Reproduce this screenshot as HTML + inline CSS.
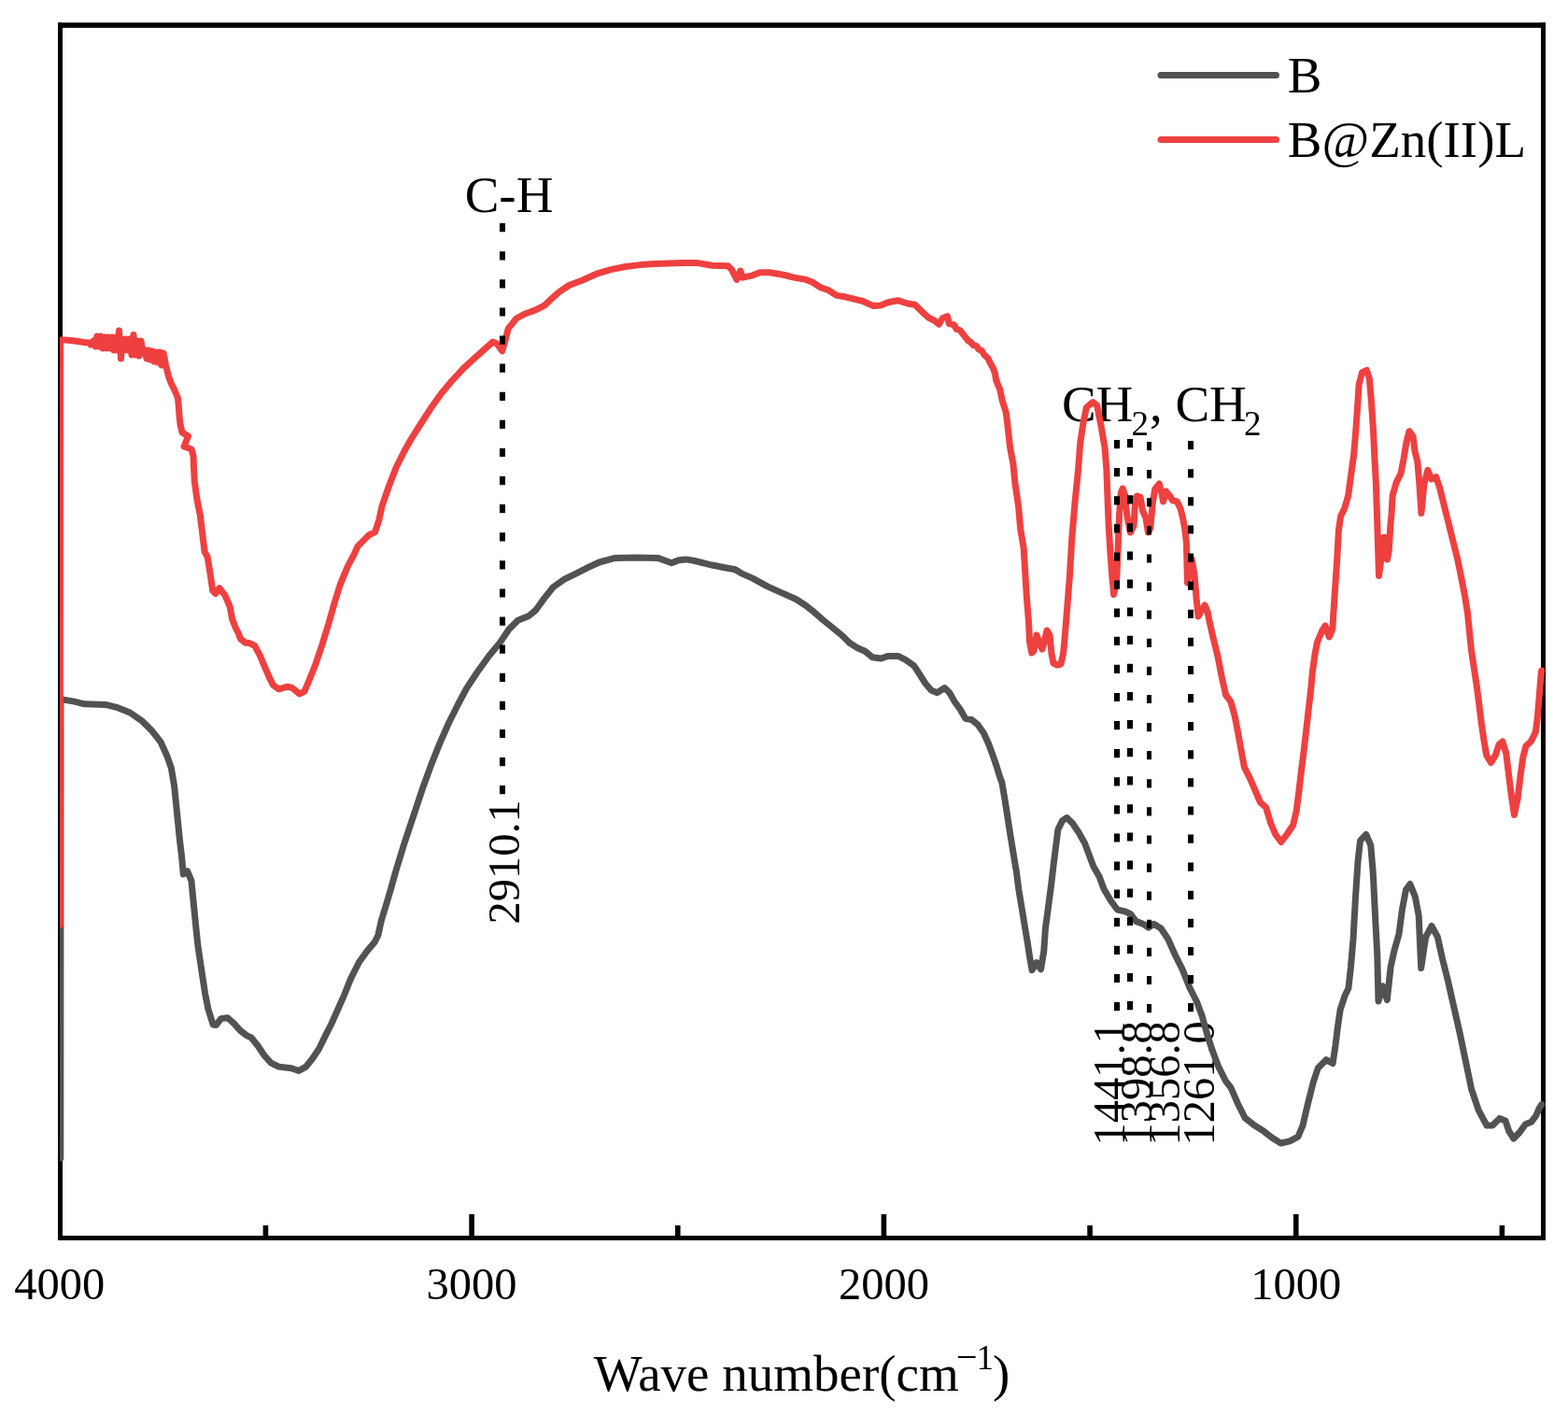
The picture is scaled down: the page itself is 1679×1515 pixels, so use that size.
<!DOCTYPE html><html><head><meta charset="utf-8"><title>FTIR spectra</title>
<style>html,body{margin:0;padding:0;background:#fff;}svg{display:block;}text{font-family:'Liberation Serif','Times New Roman',serif;fill:#000;}</style></head><body>
<svg width="1679" height="1515" viewBox="0 0 1679 1515">
<rect x="0" y="0" width="1679" height="1515" fill="#fff"/>
<defs><clipPath id="pa"><rect x="64" y="0" width="1600" height="1515"/></clipPath></defs>
<g fill="#000">
<rect x="62" y="24.2" width="1593" height="5.6"/>
<rect x="62" y="24" width="5" height="1304"/>
<rect x="1650" y="24" width="5" height="1304"/>
<rect x="62" y="1323" width="1593" height="5"/>
<rect x="502.31" y="1300" width="5.6" height="24"/>
<rect x="943.62" y="1300" width="5.6" height="24"/>
<rect x="1384.93" y="1300" width="5.6" height="24"/>
<rect x="281.65" y="1312" width="5.6" height="12"/>
<rect x="722.96" y="1312" width="5.6" height="12"/>
<rect x="1164.27" y="1312" width="5.6" height="12"/>
<rect x="1605.59" y="1312" width="5.6" height="12"/>
</g>
<text x="63.8" y="1390.5" font-size="48.5" text-anchor="middle">4000</text>
<text x="505.1" y="1390.5" font-size="48.5" text-anchor="middle">3000</text>
<text x="946.4" y="1390.5" font-size="48.5" text-anchor="middle">2000</text>
<text x="1387.7" y="1390.5" font-size="48.5" text-anchor="middle">1000</text>
<text x="635.7" y="1489.3" font-size="55">Wave number(cm<tspan x="1024" y="1466" font-size="40">&#8722;</tspan><tspan x="1045.4" y="1466" font-size="37">1</tspan><tspan x="1063" y="1489.3">)</tspan></text>
<text x="497.7" y="227.1" font-size="55">C-H</text>
<text x="1136.9" y="450.7" font-size="55">CH<tspan x="1211.6" dy="15.1" font-size="37">2</tspan><tspan x="1230.9" dy="-15.1">, CH</tspan><tspan x="1332.1" dy="15.1" font-size="37">2</tspan></text>
<text transform="translate(555.8 989.6) rotate(-90)" font-size="48.5">2910.1</text>
<text transform="translate(1203.6 1226.6) rotate(-90)" font-size="48.5">1441.1</text>
<text transform="translate(1233.3 1226.6) rotate(-90)" font-size="48.5">1398.8</text>
<text transform="translate(1262.5 1226.6) rotate(-90)" font-size="48.5">1356.8</text>
<text transform="translate(1299.6 1226.6) rotate(-90)" font-size="48.5">1261.0</text>
<line x1="1243" y1="80.6" x2="1366.5" y2="80.6" stroke="#525252" stroke-width="7" stroke-linecap="round"/>
<line x1="1243" y1="149.4" x2="1366.5" y2="149.4" stroke="#ef4040" stroke-width="7" stroke-linecap="round"/>
<text x="1378.8" y="98.6" font-size="55">B</text>
<text x="1378.8" y="167.9" font-size="55">B@Zn(II)L</text>
<g clip-path="url(#pa)" fill="none" stroke-width="7" stroke-linejoin="round" stroke-linecap="round">
<path d="M64.8 1240.0 L65.0 749.0 67.9 749.1 79.8 751.1 90.4 753.8 112.8 754.4 126.0 757.7 139.2 763.0 152.4 772.2 163.0 782.8 172.2 794.7 178.8 809.2 183.4 822.4 186.7 842.2 188.7 862.0 190.7 881.8 192.7 901.6 194.6 917.2 196.3 936.0 200.6 932.6 204.9 942.9 206.6 960.1 208.3 977.3 210.0 994.4 211.8 1011.6 214.3 1028.8 216.9 1045.9 219.5 1063.1 222.9 1080.3 228.1 1097.0 231.5 1097.4 236.7 1090.6 243.5 1089.7 250.4 1095.7 257.3 1103.4 264.1 1108.6 269.3 1111.2 276.1 1119.7 283.0 1130.0 289.9 1137.8 298.5 1142.1 312.2 1143.8 319.9 1146.5 327.6 1142.1 334.5 1133.5 341.4 1123.2 348.2 1109.4 355.1 1095.7 362.0 1080.3 368.8 1064.8 375.7 1047.6 384.3 1030.5 392.9 1018.5 401.5 1008.2 404.9 1001.3 408.3 985.8 413.5 968.7 418.6 951.5 423.8 932.7 433.3 901.8 442.8 873.3 452.3 844.8 461.8 818.6 471.3 794.9 480.8 773.5 490.3 754.5 499.8 736.6 511.7 718.8 523.6 702.2 535.5 687.9 545.0 673.7 554.5 664.2 566.3 659.4 573.5 653.5 583.0 640.4 592.5 628.5 604.4 620.2 616.3 614.3 628.1 608.3 641.7 602.0 658.7 597.4 681.9 597.1 704.4 597.4 712.9 600.5 719.1 602.8 726.8 599.7 734.6 598.9 743.9 600.5 759.4 604.4 774.8 607.5 787.2 609.8 793.4 613.6 805.8 619.1 821.3 627.6 836.8 634.6 852.3 641.5 863.1 648.5 870.0 653.9 880.5 663.1 891.0 671.6 902.8 681.4 909.3 688.0 917.2 693.2 926.3 697.2 934.2 703.7 943.4 705.0 951.2 702.4 961.7 702.4 969.6 706.3 978.8 712.9 984.0 720.8 990.5 731.2 997.1 739.1 1003.6 741.7 1011.5 736.5 1016.8 741.7 1022.0 750.9 1028.5 760.1 1033.8 769.2 1040.3 770.5 1046.9 775.8 1053.4 785.0 1058.7 796.8 1062.6 807.2 1067.0 820.0 1070.0 830.0 1072.9 838.0 1075.8 854.8 1079.0 875.4 1082.2 896.0 1085.3 915.0 1088.5 934.0 1090.9 953.0 1094.1 972.0 1097.2 991.0 1100.4 1010.0 1102.8 1025.9 1105.1 1038.6 1109.9 1030.6 1114.6 1037.8 1117.8 1018.0 1119.4 994.2 1122.6 970.5 1125.7 946.7 1128.1 926.1 1130.5 907.1 1132.9 888.1 1137.6 878.6 1142.4 875.5 1148.7 881.8 1155.0 891.3 1161.4 902.4 1166.1 915.0 1170.9 927.7 1177.2 938.8 1182.0 951.7 1189.5 964.5 1196.5 974.0 1204.9 975.8 1210.6 978.7 1216.4 986.4 1224.0 989.2 1229.8 993.1 1235.5 989.2 1243.2 994.0 1250.8 1005.5 1258.5 1022.8 1266.2 1038.1 1273.8 1057.2 1281.5 1072.5 1287.2 1087.9 1293.0 1108.9 1298.7 1126.1 1304.5 1141.5 1312.1 1156.8 1317.9 1164.4 1325.5 1181.7 1333.2 1197.0 1342.7 1204.6 1352.3 1210.4 1361.9 1218.0 1371.5 1224.0 1381.0 1221.9 1390.0 1217.0 1395.0 1205.0 1400.0 1183.6 1406.3 1158.5 1411.3 1143.5 1420.1 1134.7 1427.1 1138.5 1430.1 1118.4 1432.6 1098.3 1435.2 1080.8 1440.2 1065.7 1443.9 1058.2 1446.4 1035.6 1449.0 1005.5 1451.5 960.4 1454.0 922.7 1456.5 900.1 1462.8 893.5 1467.8 905.2 1470.3 935.3 1472.8 985.4 1474.8 1023.1 1476.0 1072.0 1480.3 1055.7 1485.3 1070.7 1489.1 1035.6 1492.9 1018.0 1497.9 1000.5 1501.6 972.9 1505.4 952.8 1509.9 946.5 1515.4 960.4 1519.2 980.4 1521.7 1036.5 1526.7 1003.0 1533.0 991.5 1539.3 1003.0 1544.3 1025.6 1550.6 1050.7 1556.8 1078.3 1563.1 1105.9 1569.4 1136.0 1575.6 1166.1 1583.2 1188.7 1592.0 1205.0 1598.2 1205.0 1605.8 1197.4 1612.0 1199.9 1615.8 1211.2 1620.8 1219.0 1627.1 1212.5 1633.4 1203.7 1639.6 1201.2 1644.6 1194.9 1648.4 1186.1 1650.9 1182.4" stroke="#525252"/>
<path d="M64.2 990.5 L64.5 364.0 70.0 364.0 80.0 365.0 90.0 366.5 95.0 367.0 97.0 369.0 100.0 365.0 102.0 371.0 104.0 360.0 106.0 371.0 108.0 360.0 110.0 373.0 112.0 361.0 114.0 373.0 116.0 361.0 118.0 373.0 120.0 361.0 122.0 375.0 124.0 361.0 126.0 375.0 127.5 354.0 129.5 384.0 131.0 363.0 133.0 375.0 135.0 363.0 137.0 375.0 139.0 363.0 141.0 380.0 143.0 358.5 145.0 380.0 147.0 365.0 149.0 381.0 151.0 365.0 153.0 378.0 155.0 374.6 157.0 384.0 159.0 375.0 161.0 385.0 163.0 376.0 165.0 387.0 167.0 377.0 169.0 388.0 171.0 377.0 173.0 391.0 175.0 378.0 177.5 391.0 180.5 403.0 183.5 411.0 187.0 418.0 190.4 426.0 191.3 435.0 192.0 445.0 193.0 454.0 195.0 463.0 201.5 467.0 197.0 478.0 205.0 481.0 207.0 488.0 207.5 500.0 208.3 515.5 210.9 534.3 214.3 551.5 216.4 568.7 219.1 591.0 222.1 596.1 225.5 616.7 227.7 632.2 230.6 635.6 234.9 629.6 240.9 637.3 246.1 649.4 248.7 663.1 252.1 671.7 255.5 678.5 257.3 683.7 262.4 688.0 267.6 688.8 272.7 691.4 277.9 700.9 283.0 712.9 288.2 724.9 292.4 733.5 298.5 737.8 307.9 735.2 312.2 736.1 320.8 742.9 325.9 740.3 331.1 728.3 337.9 711.2 344.8 690.6 351.7 668.2 358.5 644.2 364.5 625.3 372.3 606.4 379.1 593.6 383.1 584.9 395.0 572.9 401.6 569.6 405.9 556.6 409.2 541.3 416.8 519.5 424.4 500.0 433.2 482.5 441.9 467.3 451.7 452.0 461.5 436.8 472.4 421.5 483.2 408.5 496.3 394.3 509.4 382.4 520.3 372.6 527.9 366.0 532.2 368.2 537.7 375.8 540.9 364.9 544.2 351.9 552.9 341.0 561.6 336.2 572.5 332.3 583.4 326.8 590.0 320.3 598.7 312.7 609.3 305.5 623.2 300.2 638.7 293.2 654.2 288.6 669.7 285.5 685.2 283.6 700.6 282.4 716.1 282.1 731.6 281.6 747.1 281.6 762.6 284.2 779.6 284.7 783.5 288.6 788.9 299.4 792.8 290.1 795.1 297.1 806.0 294.8 813.7 291.7 824.5 291.7 840.0 294.5 850.0 297.1 863.1 299.4 869.7 302.0 878.8 307.9 886.7 310.5 895.9 316.4 905.0 317.8 915.5 320.4 923.4 322.3 935.2 327.6 943.0 326.9 950.9 323.7 961.4 321.7 971.9 325.0 979.7 326.3 987.6 334.1 994.1 340.0 1000.7 343.3 1005.3 347.2 1009.2 340.7 1014.4 338.7 1016.4 346.6 1021.6 347.9 1024.3 352.5 1028.2 353.8 1033.6 360.8 1036.5 364.5 1039.5 366.5 1042.0 369.5 1045.4 370.3 1048.0 374.0 1051.2 375.5 1054.0 380.0 1057.8 383.5 1060.5 389.0 1063.6 394.5 1065.5 400.0 1066.5 406.5 1068.5 412.0 1070.8 417.0 1072.0 423.0 1073.0 428.0 1075.9 437.5 1077.3 442.0 1079.3 458.5 1081.5 478.7 1084.9 496.7 1087.1 519.1 1090.5 541.6 1092.7 566.3 1096.1 586.5 1097.9 615.6 1099.4 640.0 1101.5 666.0 1102.5 687.0 1104.8 699.0 1107.0 697.0 1110.0 680.0 1113.0 688.0 1116.0 695.0 1118.0 688.0 1121.0 675.0 1124.0 680.0 1126.0 700.0 1128.0 710.0 1132.0 712.0 1136.0 711.0 1138.5 700.0 1139.5 690.0 1141.5 666.0 1143.6 640.0 1145.5 615.6 1147.7 577.5 1151.1 537.1 1154.5 503.4 1156.7 474.3 1160.1 451.8 1163.4 436.1 1170.2 430.5 1174.6 433.9 1179.1 456.3 1183.1 480.0 1184.9 503.8 1186.0 533.5 1187.2 563.2 1189.0 592.9 1190.8 616.7 1192.6 636.5 1195.6 622.6 1196.7 598.8 1197.6 575.1 1198.5 551.3 1200.3 527.5 1202.1 523.0 1204.5 529.9 1206.8 551.3 1210.4 570.0 1214.0 563.2 1215.8 533.5 1217.5 531.1 1221.1 532.3 1223.5 546.6 1227.0 554.9 1229.4 570.0 1231.8 565.6 1234.2 539.4 1236.6 524.0 1241.3 518.0 1244.3 529.9 1245.5 537.0 1248.4 526.0 1252.0 530.0 1255.6 535.9 1260.3 537.0 1263.9 544.2 1266.3 553.7 1268.6 565.6 1270.4 581.0 1271.0 606.0 1271.5 624.0 1276.0 598.0 1279.0 615.0 1281.0 640.0 1282.5 655.0 1283.0 660.0 1287.0 653.0 1290.0 648.0 1293.0 655.0 1295.0 665.0 1298.9 682.3 1304.0 702.9 1308.3 725.2 1312.6 744.1 1317.8 751.0 1322.1 766.4 1325.5 783.6 1328.9 802.5 1332.4 821.4 1338.4 833.4 1344.4 847.1 1349.5 859.1 1355.5 864.3 1360.7 881.5 1365.8 893.5 1371.8 901.5 1377.9 893.5 1384.7 883.2 1388.2 867.7 1390.7 848.8 1393.3 826.5 1395.9 805.9 1398.5 783.6 1401.0 761.3 1403.6 739.0 1405.3 720.1 1407.9 701.2 1410.5 687.5 1415.6 675.5 1419.1 670.0 1423.3 682.0 1426.8 673.7 1427.8 657.2 1429.8 627.5 1431.8 597.8 1433.4 568.1 1435.7 552.3 1439.7 544.4 1443.7 530.5 1446.6 508.7 1449.6 486.9 1451.6 463.2 1453.6 435.4 1455.1 411.7 1458.5 398.8 1463.5 396.5 1466.4 405.7 1468.4 429.5 1470.4 459.2 1471.8 488.9 1473.4 518.6 1474.4 548.3 1475.3 578.0 1476.5 616.5 1479.0 598.0 1481.5 575.5 1484.0 575.5 1485.5 599.0 1487.2 590.0 1488.7 565.0 1490.0 550.0 1491.2 530.5 1495.1 516.6 1500.1 506.7 1503.1 490.9 1506.0 473.1 1509.0 461.7 1513.0 467.1 1515.0 483.0 1517.9 494.9 1519.9 518.6 1521.9 549.5 1524.9 518.6 1528.8 503.3 1532.8 513.0 1537.7 510.7 1541.7 522.6 1546.6 542.4 1551.6 562.2 1555.5 578.0 1560.5 597.8 1564.7 618.3 1568.5 637.8 1571.6 657.4 1573.5 676.6 1575.4 695.7 1578.3 714.9 1581.2 734.0 1583.7 753.2 1586.0 772.3 1588.8 791.5 1591.7 808.7 1596.5 816.5 1601.3 808.7 1605.1 797.2 1608.9 794.0 1612.8 806.8 1615.6 829.8 1618.5 852.7 1621.4 872.5 1625.2 854.7 1628.1 829.8 1630.9 810.6 1633.8 799.1 1639.6 793.4 1644.3 783.8 1646.3 768.5 1648.2 745.5 1650.1 722.5 1650.7 718.0" stroke="#ef4040"/>
</g>
<g stroke="#000" fill="none" stroke-dasharray="9.2 20.9">
<line x1="538" y1="239.1" x2="538" y2="852" stroke-width="6"/>
<line x1="1196" y1="471" x2="1196" y2="1084" stroke-width="6"/>
<line x1="1210" y1="470" x2="1210" y2="1084" stroke-width="6"/>
<line x1="1230.5" y1="473" x2="1230.5" y2="1086" stroke-width="5"/>
<line x1="1275" y1="472.1" x2="1275" y2="1085" stroke-width="6"/>
</g>
</svg></body></html>
